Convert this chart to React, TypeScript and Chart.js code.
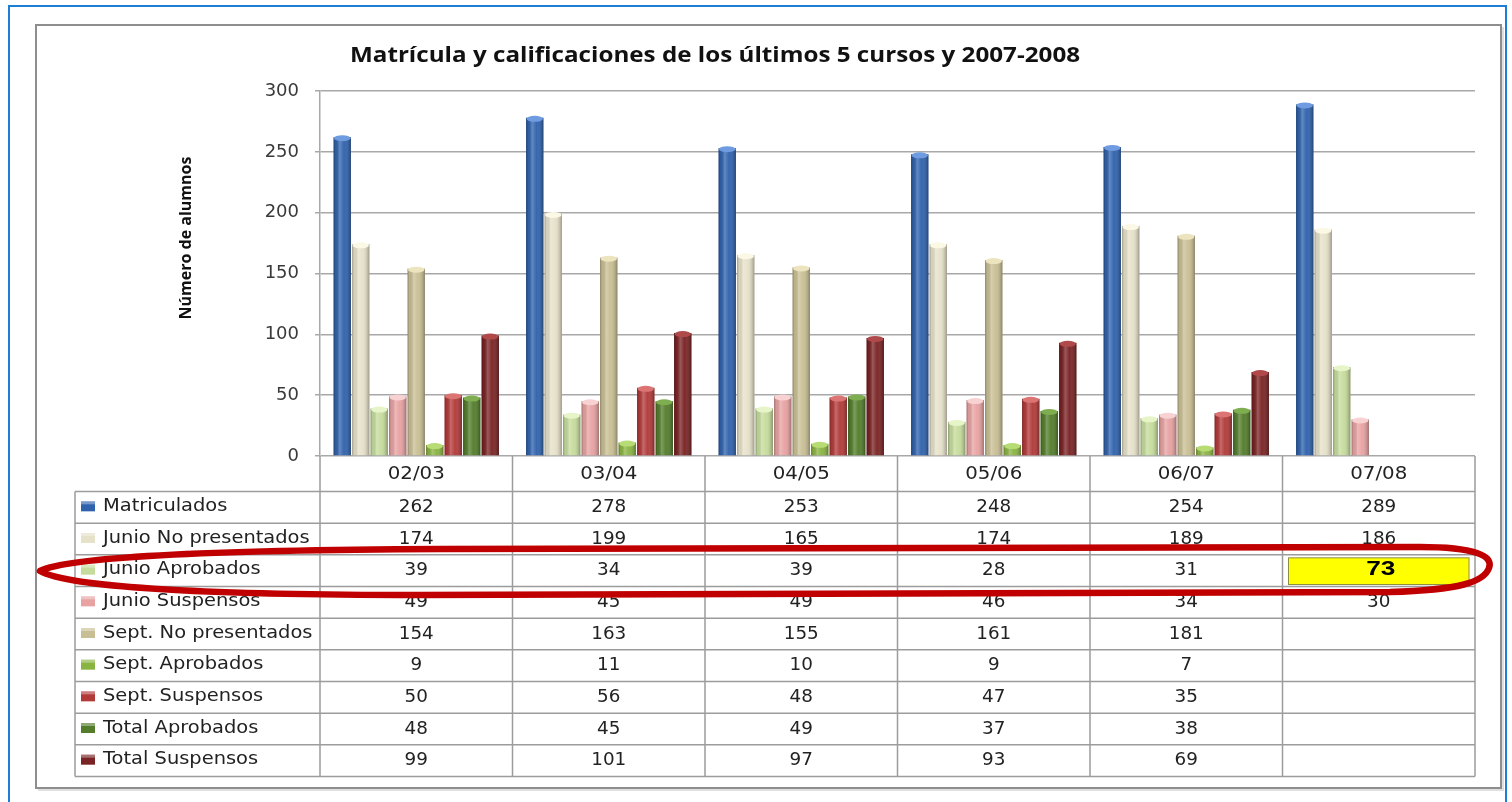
import React, { useEffect, useRef } from "react";
import { Chart, registerables } from "chart.js";

Chart.register(...registerables);

// ---------- data ----------
const categories = ["02/03", "03/04", "04/05", "05/06", "06/07", "07/08"];
const seriesNames = [
  "Matriculados",
  "Junio No presentados",
  "Junio Aprobados",
  "Junio Suspensos",
  "Sept. No presentados",
  "Sept. Aprobados",
  "Sept. Suspensos",
  "Total Aprobados",
  "Total Suspensos",
];
const matriculados = [262, 278, 253, 248, 254, 289];
const junioNoPresentados = [174, 199, 165, 174, 189, 186];
const junioAprobados = [39, 34, 39, 28, 31, 73];
const junioSuspensos = [49, 45, 49, 46, 34, 30];
const septNoPresentados = [154, 163, 155, 161, 181, null];
const septAprobados = [9, 11, 10, 9, 7, null];
const septSuspensos = [50, 56, 48, 47, 35, null];
const totalAprobados = [48, 45, 49, 37, 38, null];
const totalSuspensos = [99, 101, 97, 93, 69, null];
const yTickStep = 50;
const yMax = 300;

const seriesValues: (number | null)[][] = [
  matriculados,
  junioNoPresentados,
  junioAprobados,
  junioSuspensos,
  septNoPresentados,
  septAprobados,
  septSuspensos,
  totalAprobados,
  totalSuspensos,
];

const seriesColors = [
  "#2f62ad",
  "#e6e1c9",
  "#c6dc9c",
  "#e8a2a2",
  "#c9bf94",
  "#8ab442",
  "#b23a39",
  "#537d2b",
  "#7a2324",
];
const capColors = [
  "#6f9be0",
  "#fbf8e6",
  "#e6f4c8",
  "#f8d2d2",
  "#ece4bf",
  "#b8dc74",
  "#dd7474",
  "#7fae50",
  "#b04a4a",
];

const highlight = { row: 2, col: 5 };

const FONT = "DejaVu Sans";

function drawText(ctx: CanvasRenderingContext2D, text: string, x: number, y: number, align: CanvasTextAlign, sx: number) {
  ctx.save();
  ctx.translate(x, y);
  ctx.scale(sx, 1);
  ctx.textAlign = align;
  ctx.fillText(text, 0, 0);
  ctx.restore();
}

export default function App() {
  const canvasRef = useRef<HTMLCanvasElement | null>(null);

  useEffect(() => {
    document.body.style.margin = "0";
    const canvas = canvasRef.current;
    if (!canvas) return;

    const framePlugin = {
      id: "frame",
      beforeDraw(chart: any) {
        const ctx = chart.ctx;
        ctx.save();
        ctx.fillStyle = "#ffffff";
        ctx.fillRect(0, 0, chart.width, chart.height);
        // outer blue frame
        ctx.strokeStyle = "#1d7ed6";
        ctx.lineWidth = 2;
        ctx.strokeRect(9, 6, 1497, 830);
        // inner gray frame
        ctx.strokeStyle = "#8e8e8e";
        ctx.lineWidth = 2;
        ctx.strokeRect(36, 25, 1465, 763);
        ctx.strokeStyle = "rgba(0,0,0,0.12)";
        ctx.lineWidth = 2;
        ctx.beginPath();
        ctx.moveTo(38, 790);
        ctx.lineTo(1503, 790);
        ctx.lineTo(1503, 27);
        ctx.stroke();
        // title
        ctx.fillStyle = "#111111";
        ctx.font = "bold 22px 'Open Sans'";
        ctx.textBaseline = "middle";
        drawText(ctx, "Matrícula y calificaciones de los últimos 5 cursos y 2007-2008", 715, 56, "center", 1.1);
        // y axis title
        ctx.save();
        ctx.translate(186, 238);
        ctx.rotate(-Math.PI / 2);
        ctx.font = "bold 16px 'Open Sans'";
        ctx.fillStyle = "#111111";
        ctx.textAlign = "center";
        ctx.fillText("Número de alumnos", 0, 0);
        ctx.restore();
        ctx.restore();
      },
    };

    const shadePlugin = {
      id: "shade",
      afterDatasetsDraw(chart: any) {
        const ctx = chart.ctx;
        ctx.save();
        chart.data.datasets.forEach((ds: any, di: number) => {
          const meta = chart.getDatasetMeta(di);
          meta.data.forEach((bar: any, i: number) => {
            if (ds.data[i] == null) return;
            const { x, y, base, width } = bar.getProps(["x", "y", "base", "width"], true);
            if (!isFinite(y)) return;
            const l = x - width / 2;
            const r = x + width / 2;
            const g = ctx.createLinearGradient(l, 0, r, 0);
            g.addColorStop(0, "rgba(0,0,0,0.30)");
            g.addColorStop(0.12, "rgba(0,0,0,0.06)");
            g.addColorStop(0.35, "rgba(255,255,255,0.25)");
            g.addColorStop(0.6, "rgba(255,255,255,0.03)");
            g.addColorStop(1, "rgba(0,0,0,0.32)");
            ctx.fillStyle = g;
            ctx.fillRect(l, y, width, base - y);
            ctx.beginPath();
            ctx.ellipse(x, y + 1, width / 2 - 0.5, 3, 0, 0, Math.PI * 2);
            ctx.fillStyle = capColors[di];
            ctx.fill();
          });
        });
        ctx.restore();
      },
    };

    const tablePlugin = {
      id: "dataTable",
      afterDraw(chart: any) {
        const ctx = chart.ctx;
        const area = chart.chartArea;
        const xs = chart.scales.x;
        const n = categories.length;
        const colW = (area.right - area.left) / n;
        const headerTop = area.bottom;
        const headerBottom = headerTop + 35.5;
        const rowH = 31.67;
        const tableBottom = headerBottom + seriesNames.length * rowH;
        const tableLeft = 75;
        ctx.save();
        ctx.strokeStyle = "#9c9c9c";
        ctx.lineWidth = 1.5;
        ctx.beginPath();
        for (let k = 0; k <= n; k++) {
          const x = area.left + k * colW;
          ctx.moveTo(x, headerTop);
          ctx.lineTo(x, tableBottom);
        }
        ctx.moveTo(tableLeft, headerBottom);
        ctx.lineTo(tableLeft, tableBottom);
        for (let r = 0; r <= seriesNames.length; r++) {
          const y = headerBottom + r * rowH;
          ctx.moveTo(tableLeft, y);
          ctx.lineTo(area.right, y);
        }
        ctx.stroke();

        ctx.textBaseline = "middle";
        ctx.fillStyle = "#222222";
        ctx.font = `18px '${FONT}'`;
        categories.forEach((c, i) => {
          drawText(ctx, c, xs.getPixelForValue(i), (headerTop + headerBottom) / 2 + 1, "center", 1.1);
        });

        seriesNames.forEach((name, r) => {
          const yMid = headerBottom + r * rowH + rowH / 2;
          // legend key
          ctx.fillStyle = seriesColors[r];
          ctx.fillRect(81, yMid - 6, 14, 10);
          ctx.fillStyle = "rgba(255,255,255,0.35)";
          ctx.fillRect(81, yMid - 6, 14, 3);
          ctx.fillStyle = "#222222";
          ctx.font = `18px '${FONT}'`;
          drawText(ctx, name, 103, yMid - 1, "left", 1.08);
          seriesValues[r].forEach((v, i) => {
            if (v == null) return;
            const cx = xs.getPixelForValue(i);
            if (r === highlight.row && i === highlight.col) {
              const cl = area.left + i * colW;
              const yt = headerBottom + r * rowH;
              ctx.fillStyle = "#ffff00";
              ctx.fillRect(cl + 6, yt + 3, colW - 12, rowH - 5);
              ctx.strokeStyle = "#8f8f40";
              ctx.lineWidth = 1;
              ctx.strokeRect(cl + 6, yt + 3, colW - 12, rowH - 5);
              ctx.fillStyle = "#000000";
              ctx.font = "bold 21px 'Liberation Sans'";
              drawText(ctx, String(v), cx + 2, yMid - 1, "center", 1.25);
              ctx.fillStyle = "#222222";
              return;
            }
            ctx.font = `18px '${FONT}'`;
            drawText(ctx, String(v), cx, yMid, "center", 1.02);
          });
        });

        // red hand-drawn ellipse
        ctx.strokeStyle = "#c00000";
        ctx.lineWidth = 6.5;
        ctx.lineJoin = "round";
        ctx.beginPath();
        ctx.moveTo(40, 571);
        ctx.bezierCurveTo(70, 556, 220, 550, 440, 549);
        ctx.lineTo(1420, 547);
        ctx.bezierCurveTo(1475, 547, 1494, 556, 1489, 568);
        ctx.bezierCurveTo(1484, 582, 1460, 590, 1390, 592);
        ctx.lineTo(420, 595);
        ctx.bezierCurveTo(220, 595, 70, 588, 40, 571);
        ctx.closePath();
        ctx.stroke();
        ctx.restore();
      },
    };

    const chart = new Chart(canvas, {
      type: "bar",
      data: {
        labels: categories,
        datasets: seriesValues.map((d, i) => ({
          label: seriesNames[i],
          data: d,
          backgroundColor: seriesColors[i],
          borderWidth: 0,
          categoryPercentage: 0.865,
          barPercentage: 0.94,
        })),
      },
      options: {
        responsive: false,
        maintainAspectRatio: false,
        animation: false,
        layout: { padding: { top: 91, right: 37, bottom: 26, left: 0 } },
        plugins: {
          legend: { display: false },
          tooltip: { enabled: false },
          title: { display: false },
        },
        scales: {
          x: {
            grid: { display: false },
            border: { display: false },
            ticks: { display: false },
            afterFit: (s: any) => {
              s.height = 320;
            },
          },
          y: {
            min: 0,
            max: yMax,
            ticks: {
              stepSize: yTickStep,
              color: "#3a3a3a",
              font: { family: FONT, size: 18 },
              padding: 16,
            },
            grid: { color: "#a8a8a8", lineWidth: 1.5, tickLength: 5, tickColor: "#a8a8a8" },
            border: { color: "#a8a8a8", width: 1.5 },
            afterFit: (s: any) => {
              s.width = 320;
            },
          },
        },
      },
      plugins: [framePlugin, shadePlugin, tablePlugin],
    } as any);

    return () => chart.destroy();
  }, []);

  return (
    <div style={{ width: 1512, height: 802, position: "relative", overflow: "hidden", background: "#fff" }}>
      <canvas ref={canvasRef} width={1512} height={802} style={{ display: "block" }} />
    </div>
  );
}
